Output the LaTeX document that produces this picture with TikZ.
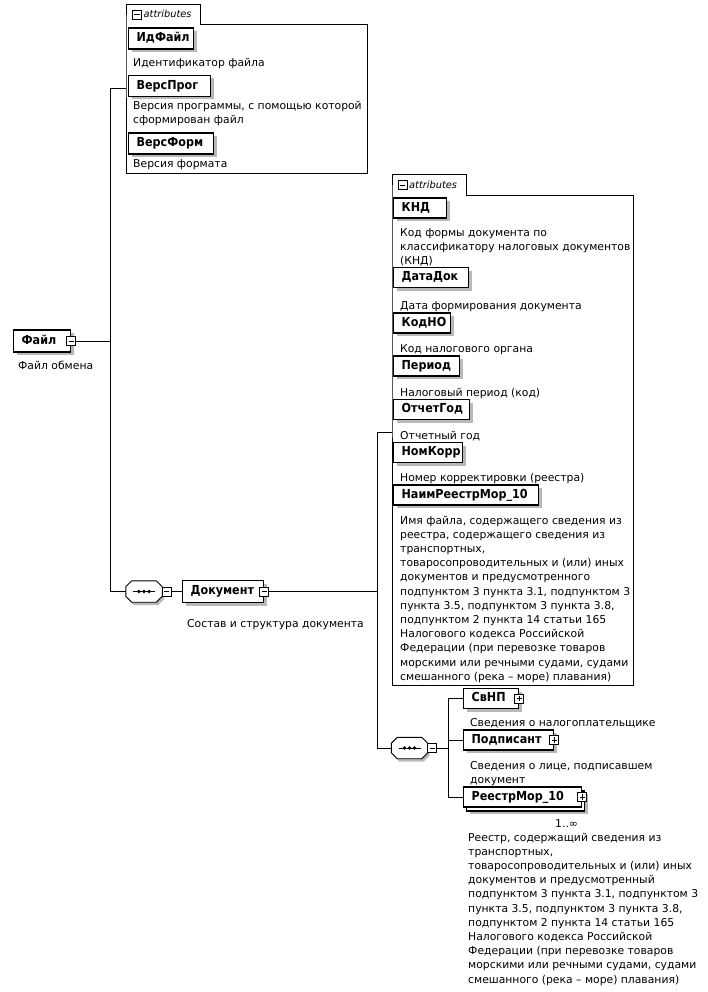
\documentclass[tikz,border=0pt]{standalone}
\usepackage{fontspec}
\setmainfont{DejaVu Sans}
\newfontfamily\lblfam{DejaVu Sans}[FakeStretch=0.9]
\usetikzlibrary{shadows}
\newcommand\dscfont{\fontsize{10.8}{14.2}\selectfont}
\newcommand\lblfont{\fontsize{12.4}{14}\selectfont\lblfam\bfseries}
\newcommand\tabfont{\fontsize{9.8}{11}\selectfont\itshape}
\tikzset{
  shd/.style={drop shadow={shadow xshift=3pt, shadow yshift=-3pt, fill=gray!55, opacity=1}},
  elembase/.style={draw, line width=1.3pt, fill=white, font=\lblfont, anchor=west, minimum height=20pt,
    inner xsep=8pt, inner ysep=0pt, text height=9pt, text depth=2.4pt, align=left},
  elem/.style={elembase, shd},
  desc/.style={font=\dscfont, align=left, inner sep=0pt, anchor=north west},
  conn/.style={line width=0.9pt},
  grp/.style={line width=0.9pt},
  mbox/.style={draw, fill=white, line width=0.8pt, minimum size=9pt, inner sep=0pt,
    path picture={\draw[line width=0.8pt] ([xshift=-2.6pt]path picture bounding box.center) -- ([xshift=2.6pt]path picture bounding box.center);}},
  pbox/.style={draw, fill=white, line width=0.8pt, minimum size=9pt, inner sep=0pt,
    path picture={\draw[line width=0.8pt] ([xshift=-2.6pt]path picture bounding box.center) -- ([xshift=2.6pt]path picture bounding box.center)
      ([yshift=-2.6pt]path picture bounding box.center) -- ([yshift=2.6pt]path picture bounding box.center);}},
  seqframe/.style={minimum width=36pt, minimum height=21pt, inner sep=0pt},
}
\newcommand\octo[1]{%
  \draw[line width=0.9pt, fill=white, drop shadow={shadow xshift=2pt, shadow yshift=-3pt, fill=gray!55, opacity=1}]
    ([xshift=6pt]#1.north west) -- ([xshift=-6pt]#1.north east) -- ([yshift=-6pt]#1.north east)
    -- ([yshift=6pt]#1.south east) -- ([xshift=-6pt]#1.south east) -- ([xshift=6pt]#1.south west)
    -- ([yshift=6pt]#1.south west) -- ([yshift=-6pt]#1.north west) -- cycle;
  \draw[line width=1pt] ([xshift=-11pt]#1.center) -- ([xshift=11pt]#1.center);
  \foreach \dx in {-5,0,5} \fill ([xshift=\dx pt]#1.center) circle (1.8pt);
}
\begin{document}
\begin{tikzpicture}[x=1pt,y=-1pt]
\fill[white] (0,0) rectangle (707,992);
\useasboundingbox (0,0) rectangle (707,992);

% ---------- attribute group of Файл
\node[anchor=north west, minimum width=74pt, minimum height=20pt, inner sep=0pt] (tab1) at (126,4) {};
\node[anchor=north west, minimum width=241pt, minimum height=149pt, inner sep=0pt] (ab1) at (126,24) {};
\draw[grp] (tab1.south west) |- (tab1.north east) |- (ab1.north east) |- (ab1.south west) -- cycle;
\node[mbox] (t1m) at (137,14.5) {};
\node[font=\tabfont, anchor=west, inner sep=0pt] (t1t) at (143.5,14) {attributes};

\node[elem, text width=49pt, minimum height=21pt] (idf) at (128,38.5) {ИдФайл};
\node[desc] (didf) at (133,56) {\strut Идентификатор файла};
\node[elem, text width=66pt, minimum height=21pt] (vprog) at (128,86) {ВерсПрог};
\node[desc] (dvprog) at (133,99) {\strut Версия программы, с помощью которой\\сформирован файл};
\node[elem, text width=69pt, minimum height=21pt] (vform) at (128,143.5) {ВерсФорм};
\node[desc] (dvform) at (133,157) {\strut Версия формата};

% ---------- root
\node[elem, text width=41pt, minimum height=22pt] (file) at (13,341) {Файл};
\node[mbox] (fm) at (file.east) {};
\node[desc] (dfile) at (18,359) {\strut Файл обмена};

% ---------- sequence 1 and Документ
\node[seqframe] (seq1) at (144,591.5) {};
\octo{seq1}
\node[mbox] (s1m) at ([xshift=4.5pt]seq1.east) {};
\node[elem, text width=65pt, minimum height=22pt] (doc) at (182,591.5) {Документ};
\node[mbox] (dm) at (doc.east) {};
\node[desc] (ddoc) at (187,617) {\strut Состав и структура документа};

% ---------- attribute group of Документ
\node[anchor=north west, minimum width=74pt, minimum height=21pt, inner sep=0pt] (tab2) at (392,174) {};
\node[anchor=north west, minimum width=241pt, minimum height=490pt, inner sep=0pt] (ab2) at (392,195) {};
\draw[grp] (tab2.south west) |- (tab2.north east) |- (ab2.north east) |- (ab2.south west) -- cycle;
\node[mbox] (t2m) at (402.5,185) {};
\node[font=\tabfont, anchor=west, inner sep=0pt] (t2t) at (409,184.5) {attributes};

\node[elem, text width=37pt] (knd) at (393,208) {КНД};
\node[desc] (dknd) at (400,226) {\strut Код формы документа по\\классификатору налоговых документов\\(КНД)};
\node[elem, text width=59pt] (datadok) at (393,277.5) {ДатаДок};
\node[desc] (ddatadok) at (400,299) {\strut Дата формирования документа};
\node[elem, text width=41pt] (kodno) at (393,323) {КодНО};
\node[desc] (dkodno) at (400,342) {\strut Код налогового органа};
\node[elem, text width=50pt] (period) at (393,366) {Период};
\node[desc] (dperiod) at (400,386) {\strut Налоговый период (код)};
\node[elem, text width=60pt] (otchgod) at (393,409.5) {ОтчетГод};
\node[desc] (dotchgod) at (400,429) {\strut Отчетный год};
\node[elem, text width=53pt] (nomkorr) at (393,452.5) {НомКорр};
\node[desc] (dnomkorr) at (400,471) {\strut Номер корректировки (реестра)};
\node[elem, text width=129pt] (naim) at (393,495) {НаимРеестрМор\_10};
\node[desc] (dnaim) at (400,514) {\strut Имя файла, содержащего сведения из\\реестра, содержащего сведения из\\транспортных,\\товаросопроводительных и (или) иных\\документов и предусмотренного\\подпунктом 3 пункта 3.1, подпунктом 3\\пункта 3.5, подпунктом 3 пункта 3.8,\\подпунктом 2 пункта 14 статьи 165\\Налогового кодекса Российской\\Федерации (при перевозке товаров\\морскими или речными судами, судами\\смешанного (река – море) плавания)};

% ---------- sequence 2 and children
\node[seqframe] (seq2) at (409.5,748) {};
\octo{seq2}
\node[mbox] (s2m) at ([xshift=4.5pt]seq2.east) {};

\node[elem, text width=39pt] (svnp) at (463,698.5) {СвНП};
\node[pbox] (svnpp) at (svnp.east) {};
\node[desc] (dsvnp) at (470,716) {\strut Сведения о налогоплательщике};
\node[elem, text width=74pt] (podp) at (463,740) {Подписант};
\node[pbox] (podpp) at (podp.east) {};
\node[desc] (dpodp) at (470,759) {\strut Сведения о лице, подписавшем\\документ};
\node[elembase, text width=102pt,
  drop shadow={shadow xshift=6pt, shadow yshift=-7pt, fill=gray!55, opacity=1},
  copy shadow={shadow xshift=3pt, shadow yshift=-4pt, draw=black, fill=white, line width=1.1pt}] (reestr) at (463,797) {РеестрМор\_10};
\node[pbox] (reestrp) at (reestr.east) {};
\node[desc] (mult) at (555,817) {\strut 1..∞};
\node[desc] (dreestr) at (468,831) {\strut Реестр, содержащий сведения из\\транспортных,\\товаросопроводительных и (или) иных\\документов и предусмотренный\\подпунктом 3 пункта 3.1, подпунктом 3\\пункта 3.5, подпунктом 3 пункта 3.8,\\подпунктом 2 пункта 14 статьи 165\\Налогового кодекса Российской\\Федерации (при перевозке товаров\\морскими или речными судами, судами\\смешанного (река – море) плавания)};

% ---------- connectors
\coordinate (b1t) at (110,88);
\coordinate (b1b) at (110,591.5);
\draw[conn] (b1t) -- (b1t -| ab1.west);
\draw[conn] (b1t) -- (b1b) -- (seq1.west);
\draw[conn] (fm.east) -- (fm.east -| b1t);
\draw[conn] (s1m.east) -- (doc.west);

\coordinate (b2t) at (377,432);
\coordinate (b2b) at (377,748);
\draw[conn] (b2t) -- (b2t -| ab2.west);
\draw[conn] (b2t) -- (b2b) -- (seq2.west);
\draw[conn] (dm.east) -- (dm.east -| b2t);

\coordinate (b3t) at (448,698.5);
\coordinate (b3b) at (448,797);
\draw[conn] (s2m.east) -- (s2m.east -| b3t);
\draw[conn] (svnp.west) -- (b3t) -- (b3b) -- (reestr.west);
\draw[conn] (podp.west) -- (podp.west -| b3t);
\end{tikzpicture}
\end{document}
